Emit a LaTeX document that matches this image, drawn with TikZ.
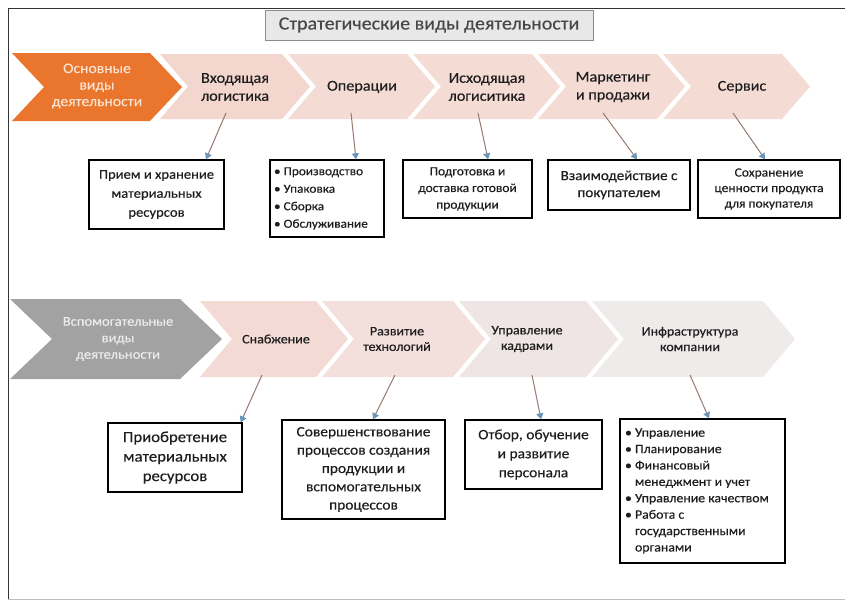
\documentclass[tikz,border=0pt]{standalone}
\usepackage{fontspec}
\setmainfont[FakeStretch=1.08,FakeBold=0.35]{Carlito}
\usetikzlibrary{arrows.meta}
\definecolor{orng}{RGB}{234,118,46}
\definecolor{orngtxt}{RGB}{252,226,208}
\definecolor{gryc}{RGB}{162,162,162}
\definecolor{grytxt}{RGB}{236,236,236}
\definecolor{pinkA}{RGB}{243,214,206}
\definecolor{pinkB}{RGB}{244,220,213}
\definecolor{pinkC}{RGB}{243,218,212}
\definecolor{pinkD}{RGB}{243,224,220}
\definecolor{pinkE}{RGB}{238,229,228}
\definecolor{pinkF}{RGB}{240,235,235}
\definecolor{lnc}{RGB}{150,122,112}
\definecolor{ahc}{RGB}{105,148,186}
\definecolor{titlefill}{RGB}{232,232,232}
\definecolor{titledraw}{RGB}{140,140,140}
\definecolor{txt}{RGB}{30,30,30}
\newcommand\mychev[6]{%
  \fill[#6] (#1,#2) -- ({#4-#5},#2) -- (#4,{(#2+#3)/2}) -- ({#4-#5},#3) -- (#1,#3) -- ({#1+#5},{(#2+#3)/2}) -- cycle;}
\tikzset{
  lbl/.style={align=center, text=txt, inner sep=0pt, font=\fontsize{15}{18}\selectfont},
  lblsm/.style={align=center, text=txt, inner sep=0pt, font=\fontsize{13}{15.5}\selectfont},
  box/.style={draw=black, line width=1.4pt, fill=white, inner sep=0pt, align=center, text=txt},
  conn/.style={draw=lnc, line width=1pt, -{Triangle[width=7pt,length=6pt,color=ahc]}},
}
\begin{document}
\begin{tikzpicture}[x=1pt,y=-1pt]
\useasboundingbox (0,0) rectangle (845,603);
\fill[white] (0,0) rectangle (845,603);
% frame
\draw[black!80, line width=1pt] (8,600) -- (8,8) -- (845,8);
\draw[black!25, line width=1pt] (8,599) -- (845,599);
% title
\node[draw=titledraw, fill=titlefill, line width=1pt, minimum width=328pt, minimum height=30pt, inner sep=0pt,
      text=black!72, font=\fontsize{18.5}{21}\selectfont] (title) at (429,25) {Стратегические виды деятельности};
% top row chevrons
\mychev{160}{54}{119}{310}{28}{pinkA}
\mychev{288}{54}{119}{435}{28}{pinkB}
\mychev{413}{54}{119}{560}{28}{pinkB}
\mychev{538}{54}{119}{685}{28}{pinkB}
\mychev{663}{54}{119}{810}{28}{pinkB}
\mychev{12}{53}{121}{182}{32}{orng}
\node[lbl, text=orngtxt, font=\fontsize{14.5}{16.5}\selectfont] (main) at (97,86) {Основные\\виды\\деятельности};
\node[lbl] (c1) at (235,87) {Входящая\\логистика};
\node[lbl] (c2) at (362,87) {Операции};
\node[lbl] (c3) at (487,87) {Исходящая\\логиситика};
\node[lbl] (c4) at (613,87) {Маркетинг\\и продажи};
\node[lbl] (c5) at (742,87) {Сервис};
% bottom row chevrons
\mychev{200}{301}{377}{348}{32}{pinkC}
\mychev{322}{301}{377}{485}{32}{pinkD}
\mychev{459}{301}{377}{618}{32}{pinkE}
\mychev{592}{301}{377}{795}{32}{pinkF}
\mychev{10}{299}{379}{222}{42}{gryc}
\node[lbl, text=grytxt, font=\fontsize{13.5}{16.5}\selectfont] (supp) at (118,339) {Вспомогательные\\виды\\деятельности};
\node[lblsm] (d1l) at (276,339) {Снабжение};
\node[lblsm] (d2l) at (397,339) {Развитие\\технологий};
\node[lblsm] (d3l) at (527,339) {Управление\\кадрами};
\node[lblsm] (d4l) at (690,339) {Инфраструктура\\компании};
% top boxes
\node[box, minimum width=135pt, minimum height=69pt, font=\fontsize{13.5}{19}\selectfont] (b1) at (156.5,194.5)
  {Прием и хранение\\материальных\\ресурсов};
\node[box, minimum width=114pt, minimum height=77pt, align=left, font=\fontsize{12.3}{17.5}\selectfont] (b2) at (327,198.5)
  {\makebox[106pt][l]{\textbullet\ Производство}\\\textbullet\ Упаковка\\\textbullet\ Сборка\\\textbullet\ Обслуживание};
\node[box, minimum width=129pt, minimum height=58pt, font=\fontsize{12.5}{16.7}\selectfont] (b3) at (467.5,189)
  {Подготовка и\\доставка готовой\\продукции};
\node[box, minimum width=142pt, minimum height=50pt, font=\fontsize{14}{17}\selectfont] (b4) at (619,185)
  {Взаимодействие с\\покупателем};
\node[box, minimum width=142pt, minimum height=58pt, font=\fontsize{12.5}{15.5}\selectfont] (b5) at (769,189)
  {Сохранение\\ценности продукта\\для покупателя};
% bottom boxes
\node[box, minimum width=134pt, minimum height=69pt, font=\fontsize{15.5}{19.5}\selectfont] (e1) at (175,457.5)
  {Приобретение\\материальных\\ресурсов};
\node[box, minimum width=163pt, minimum height=99pt, font=\fontsize{14.3}{18.3}\selectfont] (e2) at (363.5,469.5)
  {Совершенствование\\процессов создания\\продукции и\\вспомогательных\\процессов};
\node[box, minimum width=137pt, minimum height=69pt, font=\fontsize{14.3}{19}\selectfont] (e3) at (533.5,454.5)
  {Отбор, обучение\\и развитие\\персонала};
\node[box, minimum width=165pt, minimum height=144pt, align=left, font=\fontsize{12.8}{16.4}\selectfont] (e4) at (702.5,491)
  {\makebox[155pt][l]{\textbullet\ Управление}\\\textbullet\ Планирование\\\textbullet\ Финансовый\\\phantom{\textbullet}\ менеджмент и учет\\\textbullet\ Управление качеством\\\textbullet\ Работа с\\\phantom{\textbullet}\ государственными\\\phantom{\textbullet}\ органами};
% connectors top
\coordinate (s1) at (226,113);
\coordinate (s2) at (351,113);
\coordinate (s3) at (478,113);
\coordinate (s4) at (603,113);
\coordinate (s5) at (733,113);
\draw[conn] (s1) -- ([xshift=49.5pt]b1.north);
\draw[conn] (s2) -- ([xshift=29pt]b2.north);
\draw[conn] (s3) -- ([xshift=20.5pt]b3.north);
\draw[conn] (s4) -- ([xshift=18pt]b4.north);
\draw[conn] (s5) -- ([xshift=-4pt]b5.north);
% connectors bottom
\coordinate (t1) at (262,375);
\coordinate (t2) at (395,375);
\coordinate (t3) at (532,375);
\coordinate (t4) at (690,375);
\draw[conn] (t1) -- ([xshift=-2pt]e1.north east);
\draw[conn] (t2) -- ([xshift=9.5pt]e2.north);
\draw[conn] (t3) -- ([xshift=7.5pt]e3.north);
\draw[conn] (t4) -- ([xshift=6.5pt]e4.north);
\end{tikzpicture}
\end{document}
